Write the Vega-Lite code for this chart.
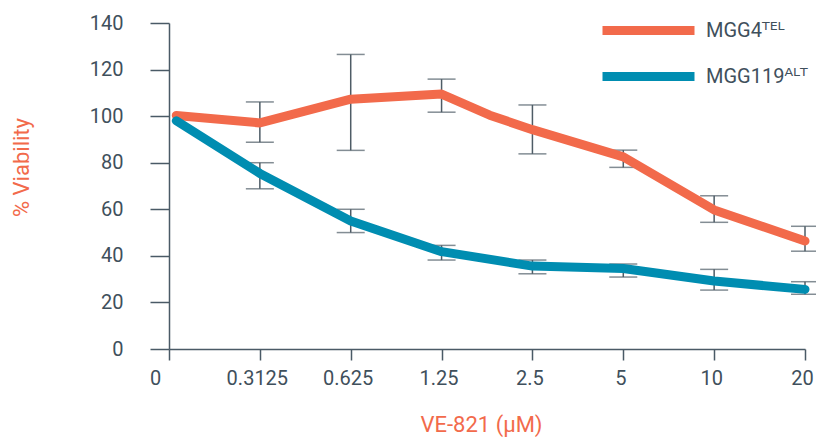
{
  "$schema": "https://vega.github.io/schema/vega-lite/v6.json",
  "autosize": "none",
  "width": 636,
  "height": 326,
  "padding": {"left": 169, "top": 23, "right": 11, "bottom": 88},
  "background": "white",
  "config": {
    "view": {"stroke": null},
    "font": "Roboto, 'DejaVu Sans'",
    "axis": {
      "domainColor": "#4a5a66",
      "tickColor": "#4a5a66",
      "domainWidth": 1.5,
      "tickWidth": 1.5,
      "grid": false,
      "labelColor": "#3f505c",
      "labelFont": "Roboto, 'DejaVu Sans'",
      "labelFontSize": 20,
      "labelFontWeight": 400,
      "titleColor": "#f26a4b",
      "titleFont": "Roboto, 'DejaVu Sans'",
      "titleFontSize": 22,
      "titleFontWeight": 400
    }
  },
  "datasets": {
    "lines": [
      {"series": "MGG4ᵀᴱᴸ", "pos": 0.08, "v": 100.3},
      {"series": "MGG4ᵀᴱᴸ", "pos": 1, "v": 97.1},
      {"series": "MGG4ᵀᴱᴸ", "pos": 2, "v": 107.3},
      {"series": "MGG4ᵀᴱᴸ", "pos": 3, "v": 109.5},
      {"series": "MGG4ᵀᴱᴸ", "pos": 3.53, "v": 100.4},
      {"series": "MGG4ᵀᴱᴸ", "pos": 4, "v": 94.2},
      {"series": "MGG4ᵀᴱᴸ", "pos": 5, "v": 82.5},
      {"series": "MGG4ᵀᴱᴸ", "pos": 6, "v": 59.7},
      {"series": "MGG4ᵀᴱᴸ", "pos": 7, "v": 46.4},
      {"series": "MGG119ᴬᴸᵀ", "pos": 0.08, "v": 98},
      {"series": "MGG119ᴬᴸᵀ", "pos": 1, "v": 75.4},
      {"series": "MGG119ᴬᴸᵀ", "pos": 2, "v": 55},
      {"series": "MGG119ᴬᴸᵀ", "pos": 3, "v": 41.8},
      {"series": "MGG119ᴬᴸᵀ", "pos": 4, "v": 35.6},
      {"series": "MGG119ᴬᴸᵀ", "pos": 5, "v": 34.6},
      {"series": "MGG119ᴬᴸᵀ", "pos": 6, "v": 29.2},
      {"series": "MGG119ᴬᴸᵀ", "pos": 7, "v": 25.6}
    ],
    "errors": [
      {"series": "MGG4ᵀᴱᴸ", "pos": 1, "lo": 88.8, "hi": 106.1},
      {"series": "MGG4ᵀᴱᴸ", "pos": 2, "lo": 85.3, "hi": 126.5},
      {"series": "MGG4ᵀᴱᴸ", "pos": 3, "lo": 101.7, "hi": 115.9},
      {"series": "MGG4ᵀᴱᴸ", "pos": 4, "lo": 83.8, "hi": 104.8},
      {"series": "MGG4ᵀᴱᴸ", "pos": 5, "lo": 78, "hi": 85.4},
      {"series": "MGG4ᵀᴱᴸ", "pos": 6, "lo": 54.4, "hi": 65.8},
      {"series": "MGG4ᵀᴱᴸ", "pos": 7, "lo": 42, "hi": 52.7},
      {"series": "MGG119ᴬᴸᵀ", "pos": 1, "lo": 68.8, "hi": 80},
      {"series": "MGG119ᴬᴸᵀ", "pos": 2, "lo": 50, "hi": 60},
      {"series": "MGG119ᴬᴸᵀ", "pos": 3, "lo": 38.2, "hi": 44.5},
      {"series": "MGG119ᴬᴸᵀ", "pos": 4, "lo": 32.3, "hi": 38.2},
      {"series": "MGG119ᴬᴸᵀ", "pos": 5, "lo": 30.9, "hi": 36.5},
      {"series": "MGG119ᴬᴸᵀ", "pos": 6, "lo": 25.3, "hi": 34.2},
      {"series": "MGG119ᴬᴸᵀ", "pos": 7, "lo": 23.5, "hi": 28.9}
    ]
  },
  "layer": [
    {
      "data": {"name": "errors"},
      "mark": {"type": "rule", "color": "#4e5c66", "strokeWidth": 1.5},
      "encoding": {
        "x": {"field": "pos", "type": "quantitative"},
        "y": {"field": "lo", "type": "quantitative"},
        "y2": {"field": "hi"}
      }
    },
    {
      "data": {"name": "errors"},
      "mark": {"type": "tick", "color": "#4e5c66", "orient": "horizontal", "size": 28, "thickness": 1.5},
      "encoding": {
        "x": {"field": "pos", "type": "quantitative"},
        "y": {"field": "lo", "type": "quantitative"}
      }
    },
    {
      "data": {"name": "errors"},
      "mark": {"type": "tick", "color": "#4e5c66", "orient": "horizontal", "size": 28, "thickness": 1.5},
      "encoding": {
        "x": {"field": "pos", "type": "quantitative"},
        "y": {"field": "hi", "type": "quantitative"}
      }
    },
    {
      "data": {"name": "lines"},
      "mark": {"type": "line", "strokeWidth": 9, "strokeCap": "round", "strokeJoin": "round"},
      "encoding": {
        "x": {
          "field": "pos",
          "type": "quantitative",
          "scale": {"domain": [0, 7], "nice": false, "zero": false},
          "axis": {
            "values": [0, 1, 2, 3, 4, 5, 6, 7],
            "labelExpr": "['0','0.3125','0.625','1.25','2.5','5','10','20'][datum.value]",
            "tickSize": 11,
            "labelPadding": 8,
            "labelFlush": false,
            "labelOffset": {"condition": {"test": "datum.value === 0", "value": -14}, "value": -3},
            "title": "VE-821 (µM)",
            "titlePadding": 26,
            "titleX": 312
          }
        },
        "y": {
          "field": "v",
          "type": "quantitative",
          "scale": {"domain": [0, 140], "nice": false},
          "axis": {
            "values": [0, 20, 40, 60, 80, 100, 120, 140],
            "tickSize": 19,
            "labelPadding": 27,
            "title": "% Viability",
            "titleX": -136,
            "titleY": 144
          }
        },
        "color": {
          "field": "series",
          "type": "nominal",
          "sort": ["MGG4ᵀᴱᴸ", "MGG119ᴬᴸᵀ"],
          "scale": {"domain": ["MGG4ᵀᴱᴸ", "MGG119ᴬᴸᵀ"], "range": ["#f26a4b", "#008db1"]},
          "legend": {
            "orient": "none",
            "legendX": 452,
            "legendY": -20,
            "title": null,
            "symbolType": "M-2,0H2",
            "symbolSize": 2116,
            "symbolStrokeWidth": 9,
            "labelFontSize": 20,
            "labelFontWeight": 400,
            "labelColor": "#3f505c",
            "labelFont": "Roboto, 'DejaVu Sans'",
            "labelOffset": 30,
            "rowPadding": 0
          }
        }
      }
    }
  ]
}
